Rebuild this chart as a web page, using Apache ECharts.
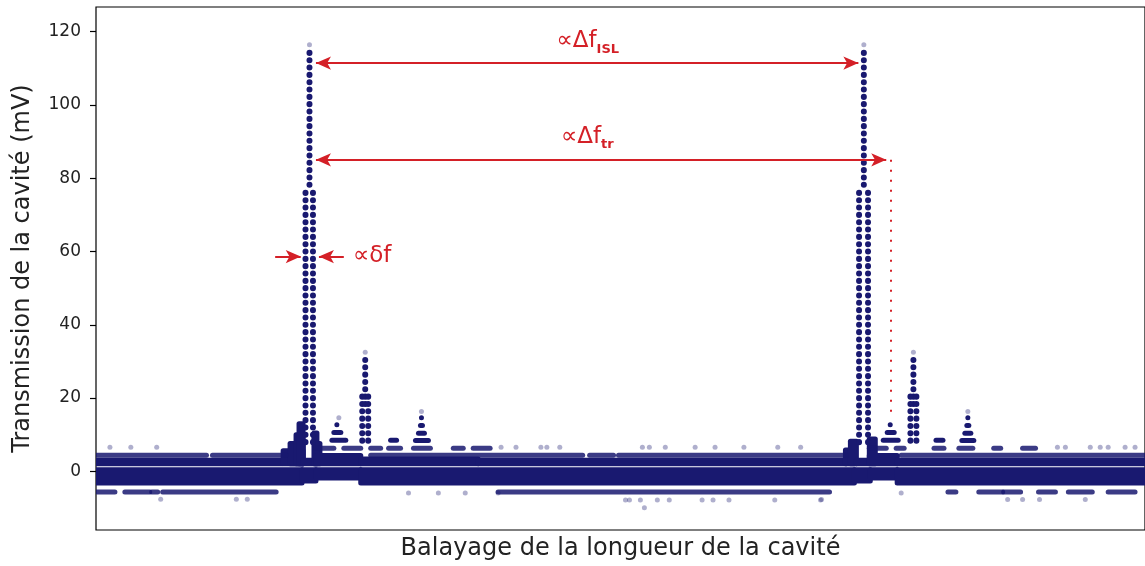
<!DOCTYPE html>
<html>
<head>
<meta charset="utf-8">
<script src="https://cdn.jsdelivr.net/npm/echarts@6/dist/echarts.min.js"></script>
<style>
  html, body { margin: 0; padding: 0; background: #fff; }
  #chart { width: 1145px; height: 566px; }
</style>
</head>
<body>
<div id="chart"></div>
<script>
// balayage : indice d'echantillon le long de la rampe, tensions en mV
var yTicks = [0, 20, 40, 60, 80, 100, 120];

// bande de bruit dense, [x0, x1, bas, haut] (centres des points)
var bandLow = [
  [1, 207, -3.2, 0.45], [207, 221, -2.6, 0.45], [221, 266, -1.8, 0.45],
  [266, 762, -3.2, 0.45], [762, 778, -2.6, 0.45], [778, 805, -1.8, 0.45],
  [805, 1054, -3.2, 0.45]
];
var bandHigh = [
  [1, 187, 2.1, 3.0], [188, 208, 2.1, 5.6], [195, 208, 2.1, 7.6],
  [201, 208, 2.1, 10.0], [204, 208, 2.1, 13.0], [208, 220, 2.1, 3.0],
  [220, 225, 2.1, 7.6], [219, 222, 2.1, 10.5], [221, 266, 2.1, 4.3],
  [266, 384, 2.1, 3.4], [384, 754, 2.1, 3.0], [753, 762, 2.1, 5.8],
  [758, 764, 2.1, 8.2], [764, 776, 2.1, 3.0], [777, 783, 2.1, 8.8],
  [777, 805, 2.1, 4.3], [805, 1054, 2.1, 3.0]
];

// rangees de points quantifiees, [x0, x1]
var rowTopLevel = 4.4;
var rowTop = [[1, 111], [117, 191], [276, 489], [496, 520], [525, 754], [809, 1054]];
var rowRaisedLevel = 6.3;
var rowRaised = [
  [221, 239], [249, 266], [276, 286], [294, 306], [319, 336], [359, 369], [379, 396],
  [777, 794], [804, 812], [842, 852], [867, 881], [902, 909], [931, 944]
];
var rowBottomLevel = -5.6;
var rowBottom = [
  [1, 19], [29, 54], [56, 62], [67, 181], [404, 737], [856, 864],
  [887, 911], [912, 929], [947, 964], [977, 1001], [1017, 1044]
];

// petits pics lateraux, [x0, x1, niveau]
var bumps = [
  [242, 242, 12.7], [239, 246, 10.6], [237, 251, 8.5],
  [296, 302, 8.5],
  [327, 327, 14.6], [326, 328, 12.5], [324, 330, 10.4], [321, 334, 8.4],
  [798, 798, 12.7], [795, 802, 10.6], [791, 806, 8.5],
  [844, 851, 8.5],
  [876, 876, 14.6], [875, 877, 12.5], [873, 879, 10.4], [870, 882, 8.4]
];

// colonnes des pics de transmission, [x, bas, haut]
var peakCols = [
  [210.5, 6.5, 76], [218, 6.5, 76], [214.5, 78.2, 114.2],
  [270.5, 18.4, 30.4], [267.5, 8.4, 20.4], [273.5, 8.4, 20.4],
  [766.7, 6.5, 76], [775.7, 6.5, 76], [771.5, 78.2, 114.2],
  [821.3, 18.4, 30.4], [818.3, 8.4, 20.4], [824.3, 8.4, 20.4]
];

// points isoles (peu d'echantillons)
var strays = [
  [14, 6.6], [35, 6.6], [61, 6.6], [65, -7.6], [141, -7.6], [152, -7.6],
  [214.5, 116.4], [771.5, 116.4], [244, 14.6], [270.5, 32.5], [327, 16.3],
  [821.3, 32.5], [876, 16.3],
  [314, -5.9], [344, -5.9], [371, -5.9], [404, -5.9],
  [407, 6.6], [422, 6.6], [447, 6.6], [453, 6.6], [466, 6.6], [549, 6.6], [556, 6.6],
  [572, 6.6], [602, 6.6], [622, 6.6], [651, 6.6], [685, 6.6], [708, 6.6],
  [532, -7.8], [536, -7.8], [547, -7.8], [564, -7.8], [576, -7.8], [609, -7.8],
  [620, -7.8], [636, -7.8], [682, -7.8], [728, -7.8], [551, -9.9],
  [966, 6.6], [974, 6.6], [999, 6.6], [1009, 6.6], [1017, 6.6], [1034, 6.6], [1044, 6.6],
  [729, -7.7], [809, -5.9], [916, -7.7], [931, -7.7], [948, -7.7], [994, -7.7]
];

// annotations
var arrowISL = [[221, 111.4], [766, 111.4]];
var arrowTr = [[221, 85.0], [794, 85.0]];
var trMarker = [[798.7, 85.0], [798.7, 14.9]];
var deltaLeft = [[180, 58.6], [205.7, 58.6]];
var deltaRight = [[249, 58.6], [224, 58.6]];
var labelPos = [[494, 116.9], [493.5, 90.9], [258, 58.8]];
var labelMain = ['∝Δf', '∝Δf', '∝δf'];
var labelSub = ['ISL', 'tr', ''];

var navy = '#191970';
var red = '#d42027';
var dot = 5;
var levelStep = 2;
var font = 'DejaVu Sans';

function asRows(runs, level) {
  return runs.map(function (r) { return [r[0], r[1], level, level]; });
}

function drawRun(alpha) {
  return function (params, api) {
    var a = api.coord([api.value(0), api.value(3)]);
    var b = api.coord([api.value(1), api.value(2)]);
    var r = dot / 2;
    return {
      type: 'rect',
      shape: { x: a[0] - r, y: a[1] - r, width: b[0] - a[0] + dot, height: b[1] - a[1] + dot, r: r },
      style: { fill: navy, opacity: alpha }
    };
  };
}

function drawColumn(params, api) {
  var top = api.coord([api.value(0), api.value(2)]);
  var bot = api.coord([api.value(0), api.value(1)]);
  var step = api.size([0, levelStep])[1];
  return {
    type: 'line',
    shape: { x1: top[0], y1: top[1], x2: bot[0], y2: bot[1] + 1 },
    style: { stroke: navy, fill: null, lineWidth: 6, lineCap: 'round', lineDash: [0.1, step - 0.1] }
  };
}

function drawLabel(params, api) {
  var p = api.coord([api.value(0), api.value(1)]);
  var i = params.dataIndex;
  var txt = '{m|' + labelMain[i] + '}' + (labelSub[i] ? '{s|' + labelSub[i] + '}' : '');
  return {
    type: 'text',
    x: p[0],
    y: p[1],
    style: {
      text: txt,
      align: labelSub[i] ? 'center' : 'left',
      verticalAlign: 'middle',
      fill: red,
      rich: {
        m: { fontSize: 23, fontFamily: font, color: red, padding: labelSub[i] ? [0, 0, 3, 0] : 0 },
        s: { fontSize: 13, fontWeight: 'bold', fontFamily: font, color: red, verticalAlign: 'bottom' }
      }
    }
  };
}

function arrowPair(pts, s0, s1, extra) {
  var a = { coord: pts[0], symbol: s0 };
  var b = { coord: pts[1], symbol: s1 };
  if (extra) a.lineStyle = extra;
  return [a, b];
}

var chart = echarts.init(document.getElementById('chart'));

var option = {
  animation: false,
  backgroundColor: '#fff',
  grid: { left: 96, right: -5, top: 7, bottom: 36, show: true, borderColor: '#000', borderWidth: 1.2 },
  xAxis: {
    type: 'value', min: 0, max: 1054,
    axisLine: { show: false }, axisTick: { show: false }, axisLabel: { show: false },
    splitLine: { show: false },
    name: 'Balayage de la longueur de la cavité',
    nameLocation: 'middle', nameGap: 7,
    nameTextStyle: { fontSize: 24, fontFamily: font, color: '#222' }
  },
  yAxis: {
    type: 'value', min: -16, max: 126.7,
    axisLine: { show: false },
    splitLine: { show: false },
    axisTick: { show: true, length: 6, customValues: yTicks, lineStyle: { color: '#000', width: 1.2 } },
    axisLabel: { customValues: yTicks, fontSize: 17, fontFamily: font, color: '#222', margin: 15 },
    name: 'Transmission de la cavité (mV)',
    nameLocation: 'middle', nameGap: 61,
    nameTextStyle: { fontSize: 24, fontFamily: font, color: '#222' }
  },
  series: [
    { type: 'custom', name: 'bande', clip: true, silent: true, renderItem: drawRun(1),
      encode: { x: [0, 1], y: [2, 3] }, data: bandLow.concat(bandHigh) },
    { type: 'custom', name: 'rangees', clip: true, silent: true, renderItem: drawRun(0.85),
      encode: { x: [0, 1], y: [2, 3] },
      data: asRows(rowTop, rowTopLevel).concat(asRows(rowRaised, rowRaisedLevel), asRows(rowBottom, rowBottomLevel)) },
    { type: 'custom', name: 'pics lateraux', clip: true, silent: true, renderItem: drawRun(1),
      encode: { x: [0, 1], y: [2, 3] },
      data: bumps.map(function (b) { return [b[0], b[1], b[2], b[2]]; }) },
    { type: 'custom', name: 'pics', clip: true, silent: true, renderItem: drawColumn,
      encode: { x: 0, y: [1, 2] }, data: peakCols },
    { type: 'scatter', name: 'isoles', silent: true, symbolSize: dot,
      itemStyle: { color: navy, opacity: 0.35 }, data: strays,
      markLine: {
        silent: true, animation: false,
        symbolSize: [10, 15],
        label: { show: false },
        lineStyle: { color: red, width: 2, type: 'solid' },
        emphasis: { disabled: true },
        data: [
          arrowPair(arrowISL, 'arrow', 'arrow'),
          arrowPair(arrowTr, 'arrow', 'arrow'),
          arrowPair(trMarker, 'none', 'none', { color: red, width: 2, type: [2, 8] }),
          arrowPair(deltaLeft, 'none', 'arrow'),
          arrowPair(deltaRight, 'none', 'arrow')
        ]
      }
    },
    { type: 'custom', name: 'annotations', silent: true, renderItem: drawLabel,
      encode: { x: 0, y: 1 }, data: labelPos, z: 5 }
  ]
};

chart.setOption(option);
</script>
</body>
</html>
